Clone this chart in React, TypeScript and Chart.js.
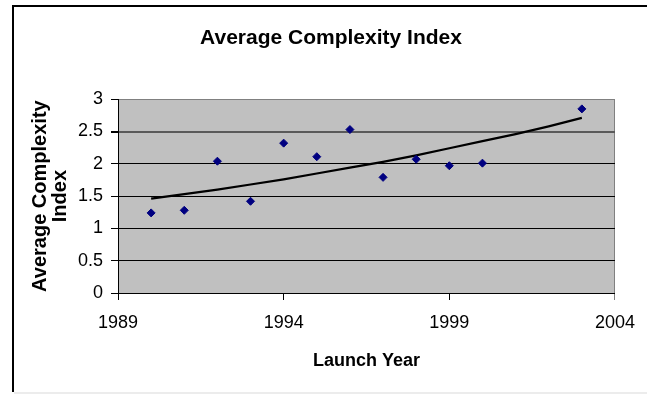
import { useEffect, useRef } from 'react';
import { Chart, registerables } from 'chart.js';

Chart.register(...registerables);

// ---- data ----
const launchYears = [1990, 1991, 1992, 1993, 1994, 1995, 1996, 1997, 1998, 1999, 2000, 2003];
const complexityValues = [1.24, 1.28, 2.04, 1.42, 2.32, 2.11, 2.53, 1.79, 2.07, 1.97, 2.01, 2.85];
const trendYears = [1990, 1991, 1992, 1993, 1994, 1995, 1996, 1997, 1998, 1999, 2000, 2001, 2002, 2003];
const trendValues = [1.46, 1.53, 1.6, 1.68, 1.76, 1.85, 1.94, 2.03, 2.13, 2.24, 2.35, 2.46, 2.58, 2.71];
const xTickValues = [1989, 1994, 1999, 2004];
const yTickValues = [0, 0.5, 1, 1.5, 2, 2.5, 3];

const FONT = 'Liberation Sans, Arial, Helvetica, sans-serif';

const framePlugin = {
  id: 'frame',
  beforeDraw(chart: any) {
    const { ctx, chartArea: a, width } = chart;
    ctx.save();
    ctx.fillStyle = '#ffffff';
    ctx.fillRect(0, 0, chart.width, chart.height);
    ctx.fillStyle = '#c0c0c0';
    ctx.fillRect(a.left, a.top, a.right - a.left, a.bottom - a.top);
    ctx.fillStyle = '#000000';
    ctx.fillRect(12, 5, 2, 387);
    ctx.fillRect(12, 5, width - 12, 2);
    ctx.fillStyle = '#ececec';
    ctx.fillRect(14, 392, width - 14, 2);
    ctx.restore();
  },
};

export default function App() {
  const canvasRef = useRef<HTMLCanvasElement | null>(null);

  useEffect(() => {
    if (!canvasRef.current) return;
    const chart = new Chart(canvasRef.current, {
      type: 'scatter',
      data: {
        datasets: [
          {
            label: 'Average Complexity Index',
            data: launchYears.map((x, i) => ({ x, y: complexityValues[i] })),
            pointStyle: 'rectRot',
            pointRadius: 4,
            borderWidth: 1,
            backgroundColor: '#000080',
            borderColor: '#000080',
          } as any,
          {
            type: 'line',
            label: 'Trend',
            data: trendYears.map((x, i) => ({ x, y: trendValues[i] })),
            showLine: true,
            borderColor: '#000000',
            borderWidth: 2.2,
            pointRadius: 0,
            fill: false,
            tension: 0,
          } as any,
        ],
      },
      options: {
        responsive: false,
        animation: false,
        layout: { padding: { left: 15, right: 0, top: 0, bottom: 0 } },
        plugins: {
          legend: { display: false },
          tooltip: { enabled: false },
          title: {
            display: true,
            text: 'Average Complexity Index',
            color: '#000',
            font: { family: FONT, size: 21, weight: 'bold' },
            padding: { top: 26, bottom: 48 },
          },
        },
        scales: {
          x: {
            type: 'linear',
            min: 1989,
            max: 2004,
            afterBuildTicks: (s: any) => {
              s.ticks = xTickValues.map((v) => ({ value: v }));
            },
            afterFit: (s: any) => {
              s.height = 101;
            },
            ticks: {
              color: '#000',
              font: { family: FONT, size: 18 },
              padding: 12,
              maxRotation: 0,
              autoSkip: false,
              callback: (v: any) => String(v),
            },
            grid: {
              drawOnChartArea: true,
              drawTicks: true,
              tickLength: 7,
              color: (c: any) => (c.tick && c.tick.value === 2004 ? '#808080' : 'rgba(0,0,0,0)'),
              tickColor: (c: any) => (c.tick && c.tick.value === 2004 ? '#808080' : '#000'),
              lineWidth: 1,
            },
            border: { display: true, color: '#000', width: 1 },
            title: {
              display: true,
              text: 'Launch Year',
              color: '#000',
              font: { family: FONT, size: 18, weight: 'bold' },
              padding: { top: 0, bottom: 22 },
            },
          },
          y: {
            type: 'linear',
            position: 'left',
            min: 0,
            max: 3,
            afterBuildTicks: (s: any) => {
              s.ticks = yTickValues.map((v) => ({ value: v }));
            },
            afterFit: (s: any) => {
              s.width = 103;
            },
            ticks: {
              color: '#000',
              font: { family: FONT, size: 18 },
              padding: 8,
              callback: (v: any) => String(v),
            },
            grid: {
              drawTicks: true,
              tickLength: 7,
              color: (c: any) =>
                c.tick && c.tick.value === 3 ? '#808080' : c.tick && c.tick.value === 2.5 ? '#5a5a5a' : '#000',
              lineWidth: (c: any) => (c.tick && c.tick.value === 2.5 ? 2 : 1),
              tickColor: '#000',
            },
            border: { display: true, color: '#000', width: 1 },
            title: {
              display: true,
              text: ['Average Complexity', 'Index'],
              color: '#000',
              font: { family: FONT, size: 20, weight: 'bold', lineHeight: 1.0 },
              padding: { top: 15, bottom: 0 },
            },
          },
          yR: {
            type: 'linear',
            position: 'right',
            display: true,
            grid: { display: false, drawTicks: false },
            ticks: { display: false },
            border: { display: false },
            afterFit: (s: any) => {
              s.width = 31;
            },
          },
        },
      } as any,
      plugins: [framePlugin],
    });
    return () => chart.destroy();
  }, []);

  return (
    <div style={{ position: 'absolute', left: 0, top: 0, width: 647, height: 394 }}>
      <canvas ref={canvasRef} width={647} height={394} style={{ display: 'block' }} />
    </div>
  );
}
